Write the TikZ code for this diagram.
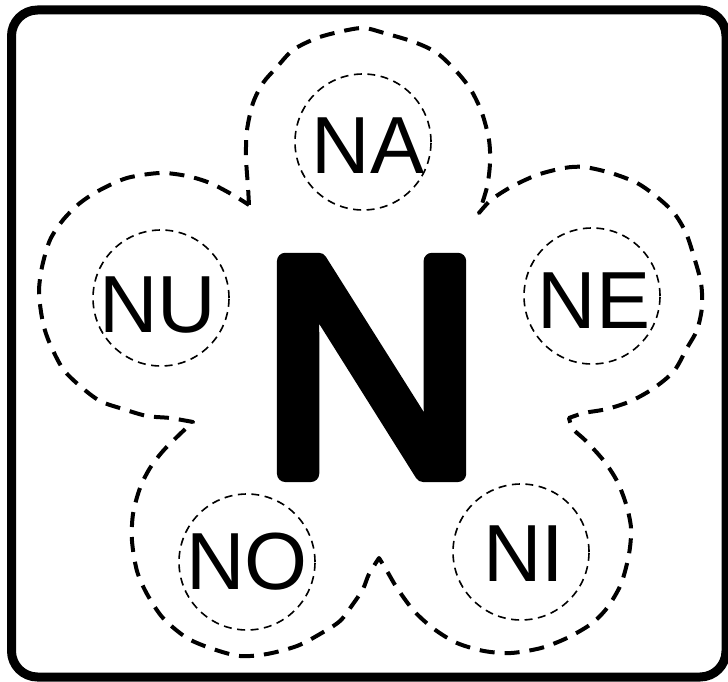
\documentclass[tikz,border=0pt]{standalone}
\usepackage{fontspec}
\setmainfont{Liberation Sans}
\newcommand\rndN{\special{pdf:literal direct 1 j 1 J 16.6 w 2 Tr}N\special{pdf:literal direct 0 Tr 0 j 0 J}}
\begin{document}
\begin{tikzpicture}[x=1pt,y=-1pt,
  smallring/.style={circle,draw,line width=1.6pt,dash pattern=on 8pt off 5.5pt,minimum size=136pt,inner sep=0pt},
  lbl/.style={font=\fontsize{81}{81}\selectfont,inner sep=0pt,anchor=base},
  petal/.style={line width=4pt,dash pattern=on 15pt off 10pt,line join=round},
  framebox/.style={line width=9pt,rounded corners=26pt}]
\fill[white] (0,0) rectangle (728,682);
\useasboundingbox (0,0) rectangle (728,682);
\draw[framebox] (11.5,10) rectangle (726,677);
% flower outline
\draw[petal]
  plot[smooth] coordinates {(249,205) (248,187) (246,157) (247,130) (253,103) (263,83) (277,67) (293,50) (317,38) (343,31) (364,28) (384,33) (414,42) (437,53) (457,72) (471,90) (482,113) (489,140) (490,163) (487,187) (479,213)}
  -- plot[smooth] coordinates {(479,213) (491,200) (511,187) (537,175) (564,168) (584,167) (611,173) (637,183) (657,197) (674,213) (686,233) (694,257) (701,283) (702,307) (697,330) (687,348) (674,371) (654,388) (631,401) (607,409) (584,413) (569,418)}
  -- plot[smooth] coordinates {(569,418) (573,429) (586,441) (604,461) (617,481) (626,504) (631,528) (629,554) (621,584) (607,608) (591,624) (567,638) (541,648) (511,653) (484,651) (457,643) (434,629) (414,611) (397,588) (387,571) (379,558)}
  -- plot[smooth] coordinates {(379,558) (369,574) (363,589) (353,604) (340,621) (320,634) (297,646) (267,654) (240,656) (213,649) (187,638) (163,618) (147,594) (137,571) (132,541) (133,514) (140,488) (150,468) (163,451) (180,434) (193,422)}
  -- plot[smooth] coordinates {(193,422) (170,418) (147,416) (123,409) (100,401) (80,386) (63,369) (50,344) (43,323) (39,293) (42,267) (50,240) (63,220) (80,203) (100,190) (127,178) (160,173) (187,176) (210,183) (233,195) (249,205)}
  -- cycle;
% small rings
\node[smallring] (na) at (363,142) {};
\node[smallring] (nu) at (161,298) {};
\node[smallring] (ne) at (592,296) {};
\node[smallring] (no) at (247,562) {};
\node[smallring] (ni) at (521,552) {};
% labels
\node[lbl] (naT) at (368,173) {NA};
\node[lbl] (nuT) at (157.5,332) {NU};
\node[lbl] (neT) at (594,328) {NE};
\node[lbl] (noT) at (247,589.5) {NO};
\node[lbl] (niT) at (524,581) {NI};
% big N
\node[inner sep=0pt,anchor=base,font=\fontsize{309}{309}\selectfont] (bigN) at (371.5,473.7) {\rndN};
\end{tikzpicture}
\end{document}
